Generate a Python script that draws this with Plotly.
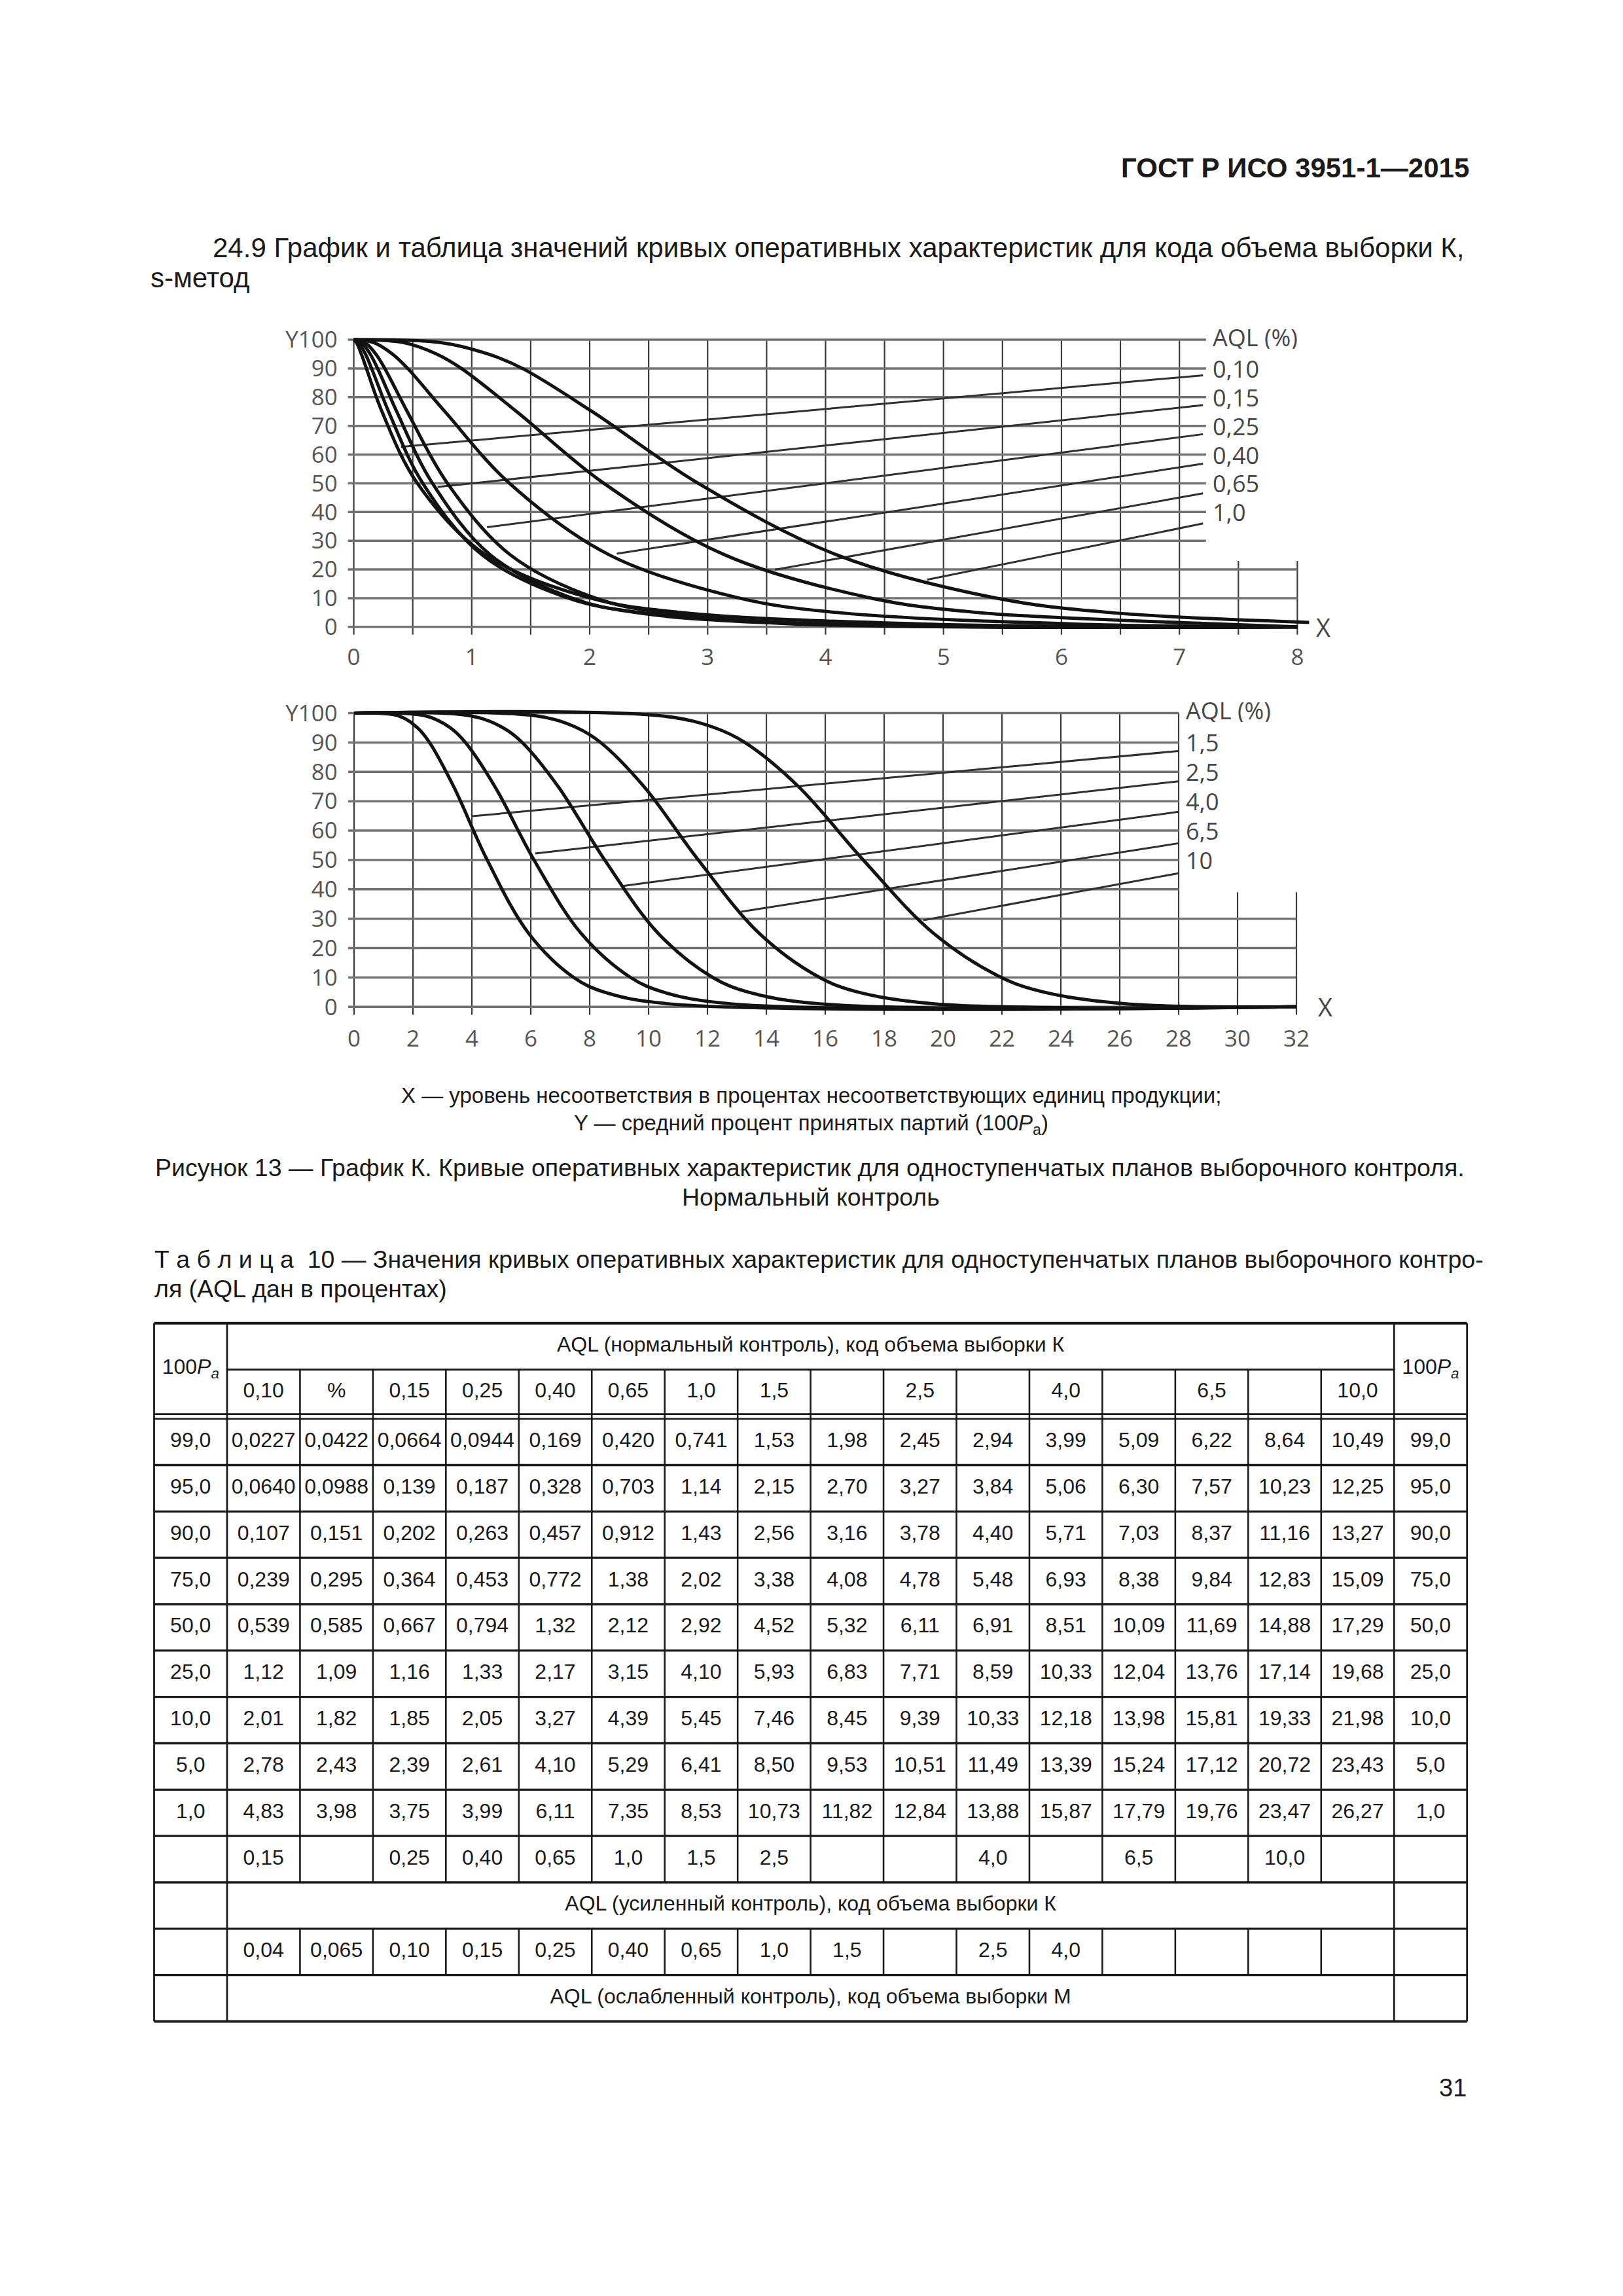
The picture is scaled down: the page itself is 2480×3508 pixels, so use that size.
import plotly.graph_objects as go

W, H = 2480, 3508
OFF = 8                     # default body margin of the html page
FW, FH = W - OFF, H - OFF   # figure size so that it fills the window exactly

# ------------------------------------------------------------------ data
pa_levels = ["99,0", "95,0", "90,0", "75,0", "50,0", "25,0", "10,0", "5,0", "1,0"]

normal_aql_header = ["0,10", "%", "0,15", "0,25", "0,40", "0,65", "1,0", "1,5",
                     "", "2,5", "", "4,0", "", "6,5", "", "10,0"]

row_99_0 = ["0,0227", "0,0422", "0,0664", "0,0944", "0,169", "0,420", "0,741", "1,53",
            "1,98", "2,45", "2,94", "3,99", "5,09", "6,22", "8,64", "10,49"]
row_95_0 = ["0,0640", "0,0988", "0,139", "0,187", "0,328", "0,703", "1,14", "2,15",
            "2,70", "3,27", "3,84", "5,06", "6,30", "7,57", "10,23", "12,25"]
row_90_0 = ["0,107", "0,151", "0,202", "0,263", "0,457", "0,912", "1,43", "2,56",
            "3,16", "3,78", "4,40", "5,71", "7,03", "8,37", "11,16", "13,27"]
row_75_0 = ["0,239", "0,295", "0,364", "0,453", "0,772", "1,38", "2,02", "3,38",
            "4,08", "4,78", "5,48", "6,93", "8,38", "9,84", "12,83", "15,09"]
row_50_0 = ["0,539", "0,585", "0,667", "0,794", "1,32", "2,12", "2,92", "4,52",
            "5,32", "6,11", "6,91", "8,51", "10,09", "11,69", "14,88", "17,29"]
row_25_0 = ["1,12", "1,09", "1,16", "1,33", "2,17", "3,15", "4,10", "5,93",
            "6,83", "7,71", "8,59", "10,33", "12,04", "13,76", "17,14", "19,68"]
row_10_0 = ["2,01", "1,82", "1,85", "2,05", "3,27", "4,39", "5,45", "7,46",
            "8,45", "9,39", "10,33", "12,18", "13,98", "15,81", "19,33", "21,98"]
row_5_0 = ["2,78", "2,43", "2,39", "2,61", "4,10", "5,29", "6,41", "8,50",
           "9,53", "10,51", "11,49", "13,39", "15,24", "17,12", "20,72", "23,43"]
row_1_0 = ["4,83", "3,98", "3,75", "3,99", "6,11", "7,35", "8,53", "10,73",
           "11,82", "12,84", "13,88", "15,87", "17,79", "19,76", "23,47", "26,27"]
table_rows = [row_99_0, row_95_0, row_90_0, row_75_0, row_50_0,
              row_25_0, row_10_0, row_5_0, row_1_0]

tightened_aql = ["0,15", "", "0,25", "0,40", "0,65", "1,0", "1,5", "2,5",
                 "", "", "4,0", "", "6,5", "", "10,0", ""]
reduced_aql = ["0,04", "0,065", "0,10", "0,15", "0,25", "0,40", "0,65", "1,0",
               "1,5", "", "2,5", "4,0", "", "", "", ""]

# curves shown in each chart (column indices of the table)
upper_chart_columns = [0, 1, 2, 3, 4, 5, 6]
lower_chart_columns = [7, 9, 11, 13, 15]

upper_aql_labels = ["0,10", "0,15", "0,25", "0,40", "0,65", "1,0"]
upper_label_y = [90, 80, 70, 60, 50, 40]
lower_aql_labels = ["1,5", "2,5", "4,0", "6,5", "10"]
lower_label_y = [90, 80, 70, 60, 50]

# leader lines
upper_leader_x0 = [0.40, 0.71, 1.13, 2.23, 3.57, 4.86]
upper_leader_y0 = [62.7, 48.7, 34.7, 25.5, 19.9, 16.4]
upper_leader_x1 = [7.20, 7.20, 7.20, 7.20, 7.20, 7.20]
upper_leader_y1 = [87.6, 77.2, 67.1, 56.8, 46.5, 36.0]
lower_leader_x0 = [4.01, 6.15, 9.08, 13.14, 19.33]
lower_leader_y0 = [64.9, 52.2, 41.1, 32.4, 29.5]
lower_leader_x1 = [28.0, 28.0, 28.0, 28.0, 28.0]
lower_leader_y1 = [87.1, 76.8, 66.4, 55.7, 45.5]

upper_x_ticks = [0, 1, 2, 3, 4, 5, 6, 7, 8]
lower_x_ticks = [0, 2, 4, 6, 8, 10, 12, 14, 16, 18, 20, 22, 24, 26, 28, 30, 32]
y_ticks = [0, 10, 20, 30, 40, 50, 60, 70, 80, 90, 100]
y_tick_text = ["0", "10", "20", "30", "40", "50", "60", "70", "80", "90", "Y100"]

upper_x_grid = [0, 0.5, 1, 1.5, 2, 2.5, 3, 3.5, 4, 4.5, 5, 5.5, 6, 6.5, 7, 7.5, 8]
lower_x_grid = [0, 2, 4, 6, 8, 10, 12, 14, 16, 18, 20, 22, 24, 26, 28, 30, 32]

curve_tail_y = 0.0


def num(s):
    return float(s.replace(",", "."))


# ------------------------------------------------------------------ styles
CHART_FONT = "Open Sans"
PAGE_FONT = "Liberation Sans"
TEXT_COLOR = "#1a1a1a"
TICK_COLOR = "#555555"
LABEL_COLOR = "#474747"
CURVE_COLOR = "#121212"
HGRID_COLOR = "#727272"
VGRID_COLOR = "#3a3a3a"
LEADER_COLOR = "#303030"

fig = go.Figure()


def paper_x(px):
    return (px - OFF) / FW


def paper_y(py):
    return 1 - (py - OFF) / FH


def domain(px_a, px_b, va, vb, rmin, rmax, vertical):
    scale = (px_b - px_a) / (vb - va)
    p_lo = px_a + (rmin - va) * scale
    p_hi = px_a + (rmax - va) * scale
    if vertical:
        return [paper_y(p_lo), paper_y(p_hi)]
    return [paper_x(p_lo), paper_x(p_hi)]


# pixel anchors of the two charts: (px of value a, px of value b, a, b)
UX = (541.0, 1984.0, 0, 8)
UY = (950.0, 508.3, 0, 100)
LX = (541.5, 1982.6, 0, 32)
LY = (1534.4, 1082.6, 0, 100)


def data_to_px(anchor, v):
    pa, pb, va, vb = anchor
    return pa + (v - va) * (pb - pa) / (vb - va)


def add_chart(xa, ya, xanc, yanc, x_grid, x_full_max, x_end, v_short_top, h_long_max,
              h_short_end, h_left, tick_below, columns, leader_x0, leader_y0, leader_x1,
              leader_y1, labels, label_y, label_x, x_label_x):
    # vertical grid
    vx, vy = [], []
    for gx in x_grid:
        top = 100 if gx <= x_full_max else v_short_top
        vx += [gx, gx, None]
        vy += [tick_below, top, None]
    fig.add_trace(go.Scatter(x=vx, y=vy, mode="lines", xaxis=xa, yaxis=ya,
                             line=dict(color=VGRID_COLOR, width=2.2), hoverinfo="skip"))
    # horizontal grid
    hx, hy = [], []
    for gy in y_ticks:
        end = x_end if gy <= h_long_max else h_short_end
        hx += [h_left, end, None]
        hy += [gy, gy, None]
    fig.add_trace(go.Scatter(x=hx, y=hy, mode="lines", xaxis=xa, yaxis=ya,
                             line=dict(color=HGRID_COLOR, width=3.5), hoverinfo="skip"))
    # leader lines
    lx, ly = [], []
    for a, b, c, d in zip(leader_x0, leader_y0, leader_x1, leader_y1):
        lx += [a, c, None]
        ly += [b, d, None]
    fig.add_trace(go.Scatter(x=lx, y=ly, mode="lines", xaxis=xa, yaxis=ya,
                             line=dict(color=LEADER_COLOR, width=3.0), hoverinfo="skip"))
    # OC curves
    for c in columns:
        xs = [0.0] + [num(r[c]) for r in table_rows]
        ys = [100.0] + [num(p) for p in pa_levels]
        if xs[-1] < x_end:
            xs.append(x_end)
            ys.append(curve_tail_y)
        fig.add_trace(go.Scatter(x=xs, y=ys, mode="lines", xaxis=xa, yaxis=ya,
                                 line=dict(color=CURVE_COLOR, width=5.0, shape="spline",
                                           smoothing=1.0),
                                 hoverinfo="skip"))
    # labels
    lab_font = dict(family=CHART_FONT, size=36, color=LABEL_COLOR)
    ann = [dict(x=label_x, y=101, xref=xa, yref=ya, text="AQL (%)", showarrow=False,
                xanchor="left", yanchor="middle", font=lab_font, height=36)]
    for t, yy in zip(labels, label_y):
        ann.append(dict(x=label_x, y=yy, xref=xa, yref=ya, text=t, showarrow=False,
                        xanchor="left", yanchor="middle", font=lab_font, height=36))
    ann.append(dict(x=paper_x(data_to_px(xanc, x_label_x)), y=paper_y(data_to_px(yanc, 0)),
                    xref="paper", yref="paper", text="X", showarrow=False,
                    xanchor="center", yanchor="middle",
                    font=dict(family=CHART_FONT, size=38, color=LABEL_COLOR)))
    return ann


annotations = []
annotations += add_chart("x", "y", UX, UY, upper_x_grid, 7, 8.0, 23.0, 20, 7.226, -0.05, -2.7,
                         upper_chart_columns, upper_leader_x0, upper_leader_y0,
                         upper_leader_x1, upper_leader_y1, upper_aql_labels,
                         upper_label_y, 7.27, 8.22)
annotations += add_chart("x2", "y2", LX, LY, lower_x_grid, 28, 32.0, 39.0, 30, 28.0, -0.2, -2.7,
                         lower_chart_columns, lower_leader_x0, lower_leader_y0,
                         lower_leader_x1, lower_leader_y1, lower_aql_labels,
                         lower_label_y, 28.2, 32.97)

axis_common = dict(showgrid=False, zeroline=False, showline=False, ticks="outside",
                   tickcolor="rgba(0,0,0,0)", fixedrange=True,
                   tickfont=dict(family=CHART_FONT, size=35, color=TICK_COLOR))

U_XR = [-0.06, 8.1]
U_YR = [-3, 102.5]
L_XR = [-0.25, 32.4]
L_YR = [-3, 103]

# ------------------------------------------------------------------ table
TBL_XR = [-0.05, 18.05]
TBL_YR = [15.13, -0.07]
hdr_split = 1.0
hdr_bottom = 1.96
body_top = 2.06
n_body_rows = 13
body_bottom = body_top + n_body_rows

shapes = []


def tline(x0, y0, x1, y1, w):
    shapes.append(dict(type="line", xref="x3", yref="y3", x0=x0, y0=y0, x1=x1, y1=y1,
                       line=dict(color="#1a1a1a", width=w)))


tline(0, 0, 18, 0, 4)
tline(1, hdr_split, 17, hdr_split, 3)
tline(0, hdr_bottom, 18, hdr_bottom, 2.6)
tline(0, body_top, 18, body_top, 2.6)
for k in range(1, n_body_rows):
    tline(0, body_top + k, 18, body_top + k, 3.3)
tline(0, body_bottom, 18, body_bottom, 4)
for xv in [0, 1, 17, 18]:
    tline(xv, 0, xv, body_bottom, 2.8)
for xv in range(2, 17):
    tline(xv, hdr_split, xv, body_top + 10, 2.6)
    tline(xv, body_top + 11, xv, body_top + 12, 2.6)

tx, ty, tt = [], [], []


def cell(x, y, t):
    if t:
        tx.append(x)
        ty.append(y)
        tt.append(t)


cell(9, 0.5, "AQL (нормальный контроль), код объема выборки К")
for side in [0.5, 17.5]:
    cell(side, 0.98, "100<i>P</i><sub><i>a</i></sub>")
for j, h in enumerate(normal_aql_header):
    cell(j + 1.5, (hdr_split + hdr_bottom) / 2, h)
for k, (lvl, row) in enumerate(zip(pa_levels, table_rows)):
    yc = body_top + k + 0.5
    cell(0.5, yc, lvl)
    cell(17.5, yc, lvl)
    for j, v in enumerate(row):
        cell(j + 1.5, yc, v)
for j, v in enumerate(tightened_aql):
    cell(j + 1.5, body_top + 9.5, v)
cell(9, body_top + 10.5, "AQL (усиленный контроль), код объема выборки К")
for j, v in enumerate(reduced_aql):
    cell(j + 1.5, body_top + 11.5, v)
cell(9, body_top + 12.5, "AQL (ослабленный контроль), код объема выборки М")

fig.add_trace(go.Scatter(x=tx, y=ty, text=tt, mode="text", xaxis="x3", yaxis="y3",
                         textposition="middle center", hoverinfo="skip",
                         textfont=dict(family=PAGE_FONT, size=32, color=TEXT_COLOR)))

# ------------------------------------------------------------------ page text


def page_text(px, py, text, size, anchor="left", bold=False):
    if bold:
        text = "<b>" + text + "</b>"
    annotations.append(dict(x=paper_x(px), y=paper_y(py), xref="paper", yref="paper",
                            text=text, showarrow=False, xanchor=anchor, yanchor="middle",
                            font=dict(family=PAGE_FONT, size=size, color=TEXT_COLOR)))


page_text(2249, 244, "ГОСТ Р ИСО 3951-1—2015", 42, "right", bold=True)
page_text(323, 367, "24.9 График и таблица значений кривых оперативных характеристик для кода объема выборки К,", 42)
page_text(228, 413, "s-метод", 42)
page_text(1240, 1670, "X — уровень несоответствия в процентах несоответствующих единиц продукции;", 33, "center")
page_text(1240, 1715, "Y — средний процент принятых партий (100<i>P</i><sub>a</sub>)", 33, "center")
page_text(1238, 1782, "Рисунок 13 — График К. Кривые оперативных характеристик для одноступенчатых планов выборочного контроля.", 37.5, "center")
page_text(1240, 1827, "Нормальный контроль", 37.5, "center")
page_text(234, 1923, "Т а б л и ц а  10 — Значения кривых оперативных характеристик для одноступенчатых планов выборочного контро-", 37.5)
page_text(234, 1968, "ля (AQL дан в процентах)", 37.5)
page_text(2222, 3197, "31", 38, "center")

fig.update_layout(
    width=FW, height=FH, margin=dict(l=0, r=0, t=0, b=0),
    paper_bgcolor="white", plot_bgcolor="rgba(0,0,0,0)", showlegend=False,
    xaxis=dict(domain=domain(*UX[:2], *UX[2:], U_XR[0], U_XR[1], False), range=U_XR,
               anchor="y", tickvals=upper_x_ticks, ticktext=[str(v) for v in upper_x_ticks],
               ticklen=2, **axis_common),
    yaxis=dict(domain=domain(*UY[:2], *UY[2:], U_YR[0], U_YR[1], True), range=U_YR,
               anchor="x", tickvals=y_ticks, ticktext=y_tick_text, ticklen=6, **axis_common),
    xaxis2=dict(domain=domain(*LX[:2], *LX[2:], L_XR[0], L_XR[1], False), range=L_XR,
                anchor="y2", tickvals=lower_x_ticks, ticktext=[str(v) for v in lower_x_ticks],
                ticklen=4, **axis_common),
    yaxis2=dict(domain=domain(*LY[:2], *LY[2:], L_YR[0], L_YR[1], True), range=L_YR,
                anchor="x2", tickvals=y_ticks, ticktext=y_tick_text, ticklen=6, **axis_common),
    xaxis3=dict(domain=domain(235.7, 2243.5, 0, 18, TBL_XR[0], TBL_XR[1], False),
                range=TBL_XR, anchor="y3", visible=False, fixedrange=True),
    yaxis3=dict(domain=domain(2021, 3094.8, 0, 15.06, TBL_YR[0], TBL_YR[1], True),
                range=TBL_YR, anchor="x3", visible=False, fixedrange=True),
    annotations=annotations,
    shapes=shapes,
)

fig.write_html("out.html")
